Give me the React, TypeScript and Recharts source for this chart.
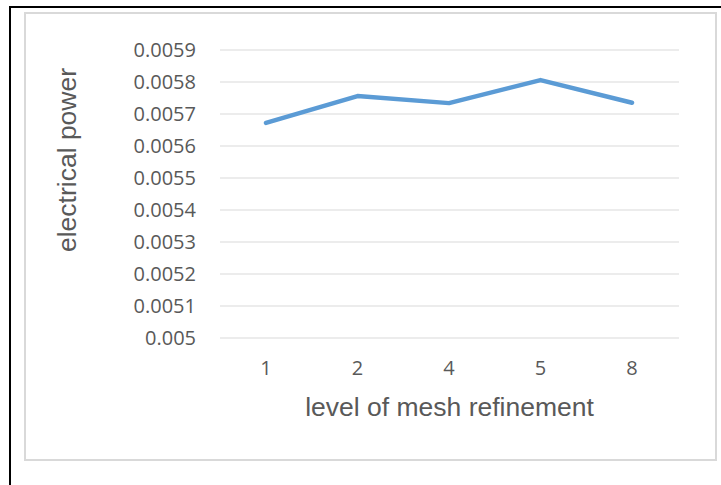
import React from "react";
import { LineChart, Line, XAxis, YAxis, CartesianGrid } from "recharts";

const categories = ["1", "2", "4", "5", "8"];
const powerValues = [0.005672, 0.005756, 0.005734, 0.005806, 0.005735];
const yTicks = [0.005, 0.0051, 0.0052, 0.0053, 0.0054, 0.0055, 0.0056, 0.0057, 0.0058, 0.0059];
const xTitle = "level of mesh refinement";
const yTitle = "electrical power";

const data = categories.map((c, i) => ({ level: c, power: powerValues[i] }));

const textColor = "#595959";

export default function App() {
  return (
    <div style={{ position: "fixed", left: 0, top: 0, width: 721, height: 485, background: "#fff", overflow: "hidden" }}>
      <div style={{ position: "absolute", left: 9, top: 6, width: 712, height: 2, background: "#000" }} />
      <div style={{ position: "absolute", left: 9, top: 6, width: 2, height: 479, background: "#000" }} />
      <div
        style={{
          position: "absolute",
          left: 24,
          top: 12,
          width: 693,
          height: 449,
          border: "2px solid #D9D9D9",
          boxSizing: "border-box",
        }}
      />
      <div style={{ position: "absolute", left: 0, top: 0 }}>
        <LineChart width={721} height={485} data={data} margin={{ top: 50, right: 42, left: 0, bottom: 0 }}>
          <CartesianGrid vertical={false} stroke="#D9D9D9" strokeWidth={1} />
          <XAxis
            dataKey="level"
            height={147}
            axisLine={false}
            tickLine={false}
            tickSize={0}
            tickMargin={23}
            padding={{ left: 46, right: 47 }}
            tick={{ fill: textColor, fontSize: 20, fontFamily: "Open Sans" }}
            label={{
              value: xTitle,
              position: "insideTop",
              offset: 59,
              fill: textColor,
              fontSize: 26.5,
              fontFamily: "Liberation Sans, Arial",
            }}
          />
          <YAxis
            width={220}
            domain={[0.005, 0.0059]}
            ticks={yTicks}
            axisLine={false}
            tickLine={false}
            tickSize={0}
            tickMargin={24}
            interval={0}
            tickFormatter={(v: number) => String(v)}
            tick={{ fill: textColor, fontSize: 20, fontFamily: "Open Sans" }}
            label={{
              value: yTitle,
              position: "center",
              angle: -90,
              dx: -43,
              dy: -34,
              fill: textColor,
              fontSize: 26.5,
              fontFamily: "Liberation Sans, Arial",
            }}
          />
          <Line
            type="linear"
            dataKey="power"
            stroke="#5B9BD5"
            strokeWidth={4.5}
            strokeLinecap="round"
            strokeLinejoin="round"
            dot={false}
            activeDot={false}
            isAnimationActive={false}
          />
        </LineChart>
      </div>
    </div>
  );
}
